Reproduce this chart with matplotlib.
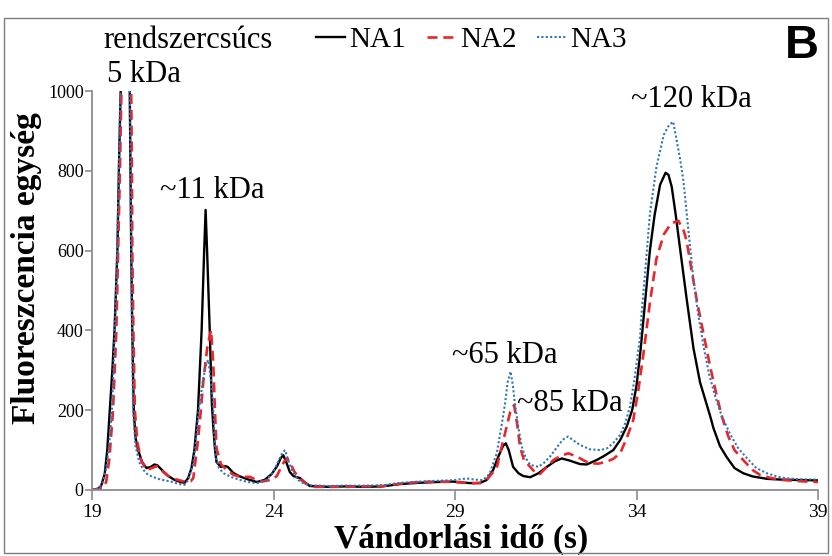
import matplotlib
matplotlib.use("Agg")
import matplotlib.pyplot as plt
from matplotlib.patches import Rectangle

# ---------------- data ----------------
na1_t = [19.0, 19.15, 19.25, 19.35, 19.42, 19.49, 19.56, 19.62, 19.70, 19.74, 19.79, 19.85, 19.92, 19.98,
         20.04, 20.06, 20.08, 20.11, 20.15, 20.20, 20.27, 20.38, 20.50, 20.62, 20.72, 20.80, 20.95, 21.10,
         21.28, 21.45, 21.55, 21.65, 21.74, 21.82, 21.92, 22.02, 22.09, 22.13, 22.17, 22.24, 22.30, 22.34,
         22.39, 22.43, 22.55, 22.68, 22.75, 22.89, 23.05, 23.25, 23.54, 23.75, 23.95, 24.10, 24.20, 24.27,
         24.35, 24.45, 24.55, 24.64, 24.73, 24.85, 25.0, 25.5, 26.0, 26.5, 27.0, 27.5, 28.0, 28.5, 28.95,
         29.3, 29.5, 29.7, 29.87, 30.05, 30.2, 30.32, 30.40, 30.48, 30.6, 30.75, 30.88, 31.07, 31.3, 31.53,
         31.75, 31.94, 32.15, 32.44, 32.63, 32.9, 33.1, 33.36, 33.55, 33.73, 33.88, 34.0, 34.1, 34.19, 34.37,
         34.5, 34.65, 34.80, 34.88, 34.97, 35.08, 35.2, 35.38, 35.57, 35.75, 36.03, 36.12, 36.3, 36.48, 36.7,
         36.94, 37.2, 37.59, 38.0, 38.5, 39.0]
na1_v = [0, 2, 10, 40, 100, 200, 300, 400, 600, 800, 1000, 1300, 1400, 1300,
         1000, 800, 600, 400, 200, 130, 100, 70, 55, 58, 64, 62, 48, 35,
         25, 20, 18, 30, 55, 100, 200, 400, 600, 702, 600, 410, 220, 160,
         100, 70, 58, 60, 57, 43, 35, 28, 20, 25, 40, 60, 80, 87,
         70, 45, 35, 32, 30, 20, 10, 8, 9, 8, 9, 15, 18, 20, 21,
         18, 17, 18, 25, 50, 85, 110, 117, 100, 58, 42, 35, 32, 42, 58,
         72, 79, 74, 65, 64, 75, 85, 100, 125, 159, 200, 262, 340, 426, 601,
         690, 765, 795, 790, 760, 690, 605, 480, 355, 270, 185, 155, 110, 83, 55,
         42, 34, 28, 26, 25, 24]

na2_t = [19.0, 19.3, 19.39, 19.48, 19.58, 19.67, 19.72, 19.77, 19.81, 19.9, 19.98, 20.05, 20.08, 20.10,
         20.11, 20.14, 20.18, 20.25, 20.35, 20.50, 20.65, 20.78, 20.9, 21.1, 21.3, 21.5, 21.64, 21.72,
         21.79, 21.9, 21.98, 22.07, 22.18, 22.28, 22.34, 22.39, 22.43, 22.55, 22.71, 22.9, 23.08, 23.35,
         23.55, 23.67, 23.85, 24.0, 24.09, 24.2, 24.3, 24.38, 24.48, 24.56, 24.64, 24.75, 24.87, 25.1,
         25.5, 26.0, 26.5, 27.0, 27.5, 28.0, 28.5, 29.0, 29.3, 29.69, 29.9, 30.05, 30.15, 30.24, 30.4,
         30.52, 30.63, 30.72, 30.79, 30.9, 31.07, 31.2, 31.34, 31.5, 31.71, 31.9, 32.12, 32.35, 32.55,
         32.72, 32.95, 33.18, 33.36, 33.55, 33.73, 33.91, 34.05, 34.19, 34.37, 34.55, 34.75, 34.95, 35.15,
         35.3, 35.38, 35.5, 35.66, 35.85, 36.03, 36.2, 36.35, 36.53, 36.7, 36.94, 37.2, 37.4, 37.7, 38.04,
         38.5, 39.0]
na2_v = [0, 5, 20, 80, 200, 400, 600, 800, 1000, 1300, 1400, 1250, 1000, 800,
         600, 400, 200, 120, 75, 50, 55, 60, 50, 35, 27, 22, 21, 22,
         30, 108, 180, 276, 360, 401, 318, 192, 105, 65, 50, 38, 33, 33,
         24, 21, 24, 28, 35, 55, 72, 79, 65, 48, 38, 26, 17, 8,
         8, 8, 9, 10, 16, 20, 21, 20, 18, 17, 28, 45, 55, 92, 150,
         195, 213, 160, 109, 75, 58, 45, 40, 55, 75, 85, 92, 84, 74,
         67, 66, 71, 78, 92, 130, 175, 250, 340, 470, 580, 640, 668, 675,
         650, 625, 560, 476, 390, 309, 240, 185, 134, 100, 75, 50, 38, 30, 25,
         22, 20]

na3_t = [19.0, 19.2, 19.3, 19.4, 19.48, 19.55, 19.63, 19.69, 19.74, 19.78, 19.85, 19.92, 19.98, 20.04,
         20.07, 20.10, 20.13, 20.2, 20.3, 20.42, 20.54, 20.7, 20.9, 21.18, 21.4, 21.55, 21.65, 21.72,
         21.79, 21.86, 21.93, 22.05, 22.13, 22.2, 22.27, 22.34, 22.37, 22.42, 22.5, 22.62, 22.85, 23.08,
         23.3, 23.54, 23.8, 24.0, 24.15, 24.25, 24.32, 24.42, 24.55, 24.68, 24.82, 25.0, 25.5, 26.0,
         26.5, 27.0, 27.5, 28.0, 28.5, 29.0, 29.32, 29.55, 29.77, 29.95, 30.15, 30.28, 30.38, 30.45,
         30.53, 30.59, 30.65, 30.74, 30.84, 30.95, 31.07, 31.3, 31.45, 31.62, 31.89, 32.02, 32.12, 32.25,
         32.44, 32.72, 33.0, 33.18, 33.36, 33.55, 33.7, 33.82, 33.93, 34.02, 34.1, 34.14, 34.25, 34.37,
         34.55, 34.75, 34.9, 35.01, 35.1, 35.2, 35.29, 35.42, 35.57, 35.7, 35.85, 36.0, 36.17, 36.35,
         36.58, 36.8, 37.04, 37.3, 37.59, 37.9, 38.14, 38.5, 39.0]
na3_v = [0, 5, 20, 60, 120, 200, 400, 600, 800, 1000, 1300, 1400, 1300, 1000,
         700, 400, 200, 110, 70, 50, 38, 32, 26, 21, 15, 13, 25, 45,
         67, 120, 192, 270, 310, 326, 280, 209, 140, 80, 55, 42, 32, 25,
         20, 17, 25, 45, 75, 95, 100, 70, 42, 25, 17, 12, 10, 11,
         11, 12, 18, 21, 23, 25, 29, 26, 25, 40, 92, 160, 217, 270,
         297, 265, 217, 160, 109, 80, 63, 58, 68, 84, 117, 130, 134, 125,
         113, 102, 100, 104, 118, 138, 170, 209, 270, 330, 384, 443, 560, 693,
         810, 890, 915, 923, 880, 830, 777, 660, 526, 440, 359, 290, 234, 185,
         140, 105, 80, 55, 42, 33, 29, 27, 26]

series_names = ["NA1", "NA2", "NA3"]
x_ticks = [19, 24, 29, 34, 39]
y_ticks = [0, 200, 400, 600, 800, 1000]
peak_labels = ["~11 kDa", "~65 kDa", "~85 kDa", "~120 kDa"]
peak_text_t = [20.87, 28.92, 30.71, 35.5]
peak_text_v = [750, 338, 218, 978]
peak_text_ha = ['left', 'left', 'left', 'center']

# ---------------- figure ----------------
plt.rcParams['font.family'] = ['Liberation Serif', 'DejaVu Serif']
fig = plt.figure(figsize=(8.32, 5.56), dpi=100)
ax = fig.add_axes([92/832, 1-490/556, (818-92)/832, (490-91)/556])

black = "#000000"
red = "#E8262B"
blue = "#2E75B6"

l1, = ax.plot(na1_t, na1_v, color=black, lw=1.7, solid_joinstyle='round')
l2, = ax.plot(na2_t, na2_v, color=red, lw=1.9, linestyle=(0, (3.8, 2.2)))
l3, = ax.plot(na3_t, na3_v, color=blue, lw=1.5, linestyle=(0, (1, 1.1)))

ax.set_xlim(19, 39)
ax.set_ylim(0, 1000)
ax.set_xticks(x_ticks)
ax.set_yticks(y_ticks)
ax.set_xticklabels([str(v) for v in x_ticks], fontsize=14)
ax.set_yticklabels([str(v) for v in y_ticks], fontsize=13)

gray = "#8C8C8C"
for s in ["top", "right"]:
    ax.spines[s].set_visible(False)
for s in ["left", "bottom"]:
    ax.spines[s].set_color(gray)
    ax.spines[s].set_linewidth(1.3)
ax.tick_params(axis='both', colors=gray, labelcolor="#000000", width=1.2, length=5, direction='out')
ax.tick_params(axis='x', length=7, pad=3)
ax.tick_params(axis='y', pad=1)

ax.set_xlabel("Vándorlási idő (s)", fontsize=24, fontweight='bold')
ax.set_ylabel("Fluoreszcencia egység", fontsize=24, fontweight='bold')
ax.yaxis.set_label_coords(-0.069, 0.556)
ax.xaxis.set_label_coords(0.508, -0.085)

# peak annotations
fig.text(103/832, 1-40/556, "rendszercsúcs", fontsize=22, ha='left', va='center')
fig.text(107/832, 1-74/556, "5 kDa", fontsize=22, ha='left', va='center')
for lab, tt, vv, ha in zip(peak_labels, peak_text_t, peak_text_v, peak_text_ha):
    ax.text(tt, vv, lab, fontsize=22, ha=ha, va='center', clip_on=False)

# legend
leg = fig.legend([l1, l2, l3], series_names, loc='center left',
                 bbox_to_anchor=(316/832, 1-40/556), ncol=3, frameon=False,
                 fontsize=21, handlelength=1.0, handletextpad=0.15, columnspacing=0.7,
                 borderpad=0, borderaxespad=0)

# panel letter
fig.text(802/832, 1-46/556, "B", fontsize=34, fontweight='bold', family='Liberation Sans',
         ha='center', va='center')

# outer frame
fig.patches.append(Rectangle((4/832, 3/556), 824/832, 535/556, transform=fig.transFigure,
                             fill=False, edgecolor="#7F7F7F", lw=1.0))

fig.savefig("out.png", dpi=100)
